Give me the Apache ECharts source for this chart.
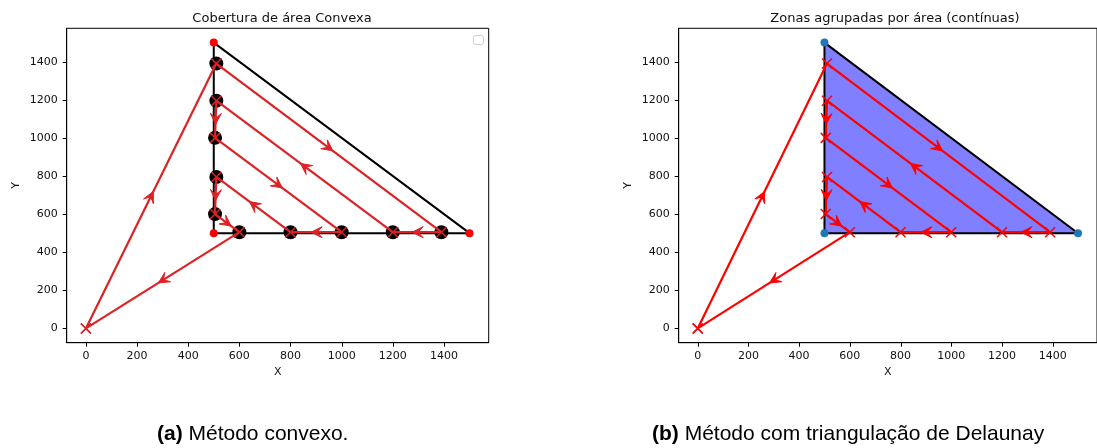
<!DOCTYPE html>
<html><head><meta charset="utf-8">
<script src="https://cdn.jsdelivr.net/npm/echarts@6/dist/echarts.min.js"></script>
<style>html,body{margin:0;padding:0;background:#fff}#c{width:1097px;height:448px}</style>
</head><body><div id="c"></div>
<script>
// ---- data ----
const pathX = [0, 510, 1390, 1200, 510, 505, 1000, 800, 510, 505, 600, 0];
const pathY = [0, 1390, 505, 505, 1195, 1000, 505, 505, 795, 600, 505, 0];
const triX = [500, 1500, 500];
const triY = [1500, 500, 500];
const tickValues = [0, 200, 400, 600, 800, 1000, 1200, 1400];
const titles = ['Cobertura de área Convexa', 'Zonas agrupadas por área (contínuas)'];
const captions = [['(a)', ' Método convexo.'], ['(b)', ' Método com triangulação de Delaunay']];

// ---- derived ----
const pts = pathX.map((x, i) => [x, pathY[i]]);
const segs = [];
for (let i = 0; i < pts.length - 1; i++) segs.push([pts[i][0], pts[i][1], pts[i + 1][0], pts[i + 1][1]]);
const visit = pts.slice(1, pts.length - 1);
const tri = triX.map((x, i) => [x, triY[i]]);
const hull = tri.concat([tri[0]]);
const AX_MIN = -75, AX_MAX = 1575;
const TICK_LEN = 4;

const FONT = 'DejaVu Sans';
const XMARK = 'path://M0,0L10,10M10,0L0,10';

function arrowSeries(idx, color) {
  return {
    type: 'custom', xAxisIndex: idx, yAxisIndex: idx, data: segs, z: 5,
    encode: {x: [0, 2], y: [1, 3]},
    renderItem: function (params, api) {
      const a = api.coord([api.value(0), api.value(1)]);
      const b = api.coord([api.value(2), api.value(3)]);
      const dx = b[0] - a[0], dy = b[1] - a[1];
      const L = Math.sqrt(dx * dx + dy * dy) || 1;
      const ux = dx / L, uy = dy / L, px = -uy, py = ux;
      const mx = (a[0] + b[0]) / 2, my = (a[1] + b[1]) / 2;
      const tx = mx + ux * 5, ty = my + uy * 5;
      const bx = tx - ux * 11, by = ty - uy * 11;
      const nx = tx - ux * 6, ny = ty - uy * 6;
      return {
        type: 'group', children: [
          {type: 'line', shape: {x1: a[0], y1: a[1], x2: b[0], y2: b[1]}, style: {stroke: color, lineWidth: 2.2}},
          {type: 'polygon', shape: {points: [[bx + px * 5.5, by + py * 5.5], [tx, ty], [bx - px * 5.5, by - py * 5.5], [nx, ny]]},
           style: {stroke: color, lineWidth: 1, fill: color, lineJoin: 'miter'}}
        ]
      };
    }
  };
}

function tickSeries(idx) {
  return {
    type: 'custom', xAxisIndex: idx, yAxisIndex: idx, z: 10, clip: false, silent: true,
    data: tickValues.map(v => [v, v]),
    encode: {x: 0, y: 1},
    renderItem: function (params, api) {
      const v = api.value(0);
      const px = api.coord([v, AX_MIN]);
      const py = api.coord([AX_MIN, v]);
      return {
        type: 'group', children: [
          {type: 'line', shape: {x1: Math.round(px[0]) + 0.5, y1: px[1], x2: Math.round(px[0]) + 0.5, y2: px[1] + TICK_LEN}, style: {stroke: '#000', lineWidth: 1}},
          {type: 'line', shape: {x1: py[0] - TICK_LEN, y1: Math.round(py[1]) + 0.5, x2: py[0], y2: Math.round(py[1]) + 0.5}, style: {stroke: '#000', lineWidth: 1}}
        ]
      };
    }
  };
}

function fmt(v) { return String(v); }

function xAxis(idx) {
  return {
    type: 'value', gridIndex: idx, min: AX_MIN, max: AX_MAX,
    name: 'X', nameLocation: 'middle', nameGap: 24,
    nameTextStyle: {fontFamily: FONT, fontSize: 11, color: '#111'},
    axisLine: {show: true, onZero: false, lineStyle: {color: '#000', width: 1}}, splitLine: {show: false},
    axisTick: {show: false},
    axisLabel: {fontFamily: FONT, fontSize: 11, color: '#111', margin: 8, customValues: tickValues, formatter: fmt}
  };
}
function yAxis(idx) {
  return {
    type: 'value', gridIndex: idx, min: AX_MIN, max: AX_MAX,
    name: 'Y', nameLocation: 'middle', nameGap: 45,
    nameTextStyle: {fontFamily: FONT, fontSize: 11, color: '#111'},
    axisLine: {show: true, onZero: false, lineStyle: {color: '#000', width: 1}}, splitLine: {show: false},
    axisTick: {show: false},
    axisLabel: {fontFamily: FONT, fontSize: 11, color: '#111', margin: 9, customValues: tickValues, formatter: fmt}
  };
}

const chart = echarts.init(document.getElementById('c'), null, {renderer: 'canvas'});
chart.setOption({
  animation: false,
  backgroundColor: '#fff',
  title: [
    {text: titles[0], left: 277, top: 7, textAlign: 'center', textStyle: {fontFamily: FONT, fontSize: 13, fontWeight: 'normal', color: '#111'}},
    {text: titles[1], left: 890, top: 7, textAlign: 'center', textStyle: {fontFamily: FONT, fontSize: 13, fontWeight: 'normal', color: '#111'}}
  ],
  grid: [
    {left: 66.7, top: 28.3, width: 422, height: 314.4, show: true, borderColor: '#000', borderWidth: 1, backgroundColor: 'transparent'},
    {left: 678.7, top: 28.3, width: 423, height: 314.4, show: true, borderColor: '#000', borderWidth: 1, backgroundColor: 'transparent'}
  ],
  xAxis: [xAxis(0), xAxis(1)],
  yAxis: [yAxis(0), yAxis(1)],
  graphic: [
    {type: 'rect', shape: {x: 473.5, y: 35.5, width: 10, height: 9, r: 2}, style: {fill: '#fff', stroke: '#ccc', lineWidth: 1}},
    {type: 'text', left: 157, top: 424, style: {
      text: '{b|' + captions[0][0] + '}{n|' + captions[0][1] + '}',
      rich: {b: {fontFamily: 'Liberation Sans', fontSize: 21, fontWeight: 'bold', fill: '#000'},
             n: {fontFamily: 'Liberation Sans', fontSize: 21, fill: '#000'}}}},
    {type: 'text', left: 652, top: 424, style: {
      text: '{b|' + captions[1][0] + '}{n|' + captions[1][1] + '}',
      rich: {b: {fontFamily: 'Liberation Sans', fontSize: 21, fontWeight: 'bold', fill: '#000'},
             n: {fontFamily: 'Liberation Sans', fontSize: 21, fill: '#000'}}}}
  ],
  series: [
    tickSeries(0),
    tickSeries(1),
    // ---- left ----
    {type: 'line', xAxisIndex: 0, yAxisIndex: 0, data: hull, symbol: 'none', z: 2,
     lineStyle: {color: '#000', width: 2}},
    {type: 'scatter', xAxisIndex: 0, yAxisIndex: 0, data: tri, symbol: 'circle', symbolSize: 8, z: 3,
     itemStyle: {color: '#ff0000', opacity: 1}},
    {type: 'scatter', xAxisIndex: 0, yAxisIndex: 0, data: visit, symbol: 'circle', symbolSize: 14, z: 4,
     itemStyle: {color: '#000', opacity: 1}},
    arrowSeries(0, '#dd2226'),
    {type: 'scatter', xAxisIndex: 0, yAxisIndex: 0, data: pts, symbol: XMARK, symbolSize: 10, z: 6,
     itemStyle: {color: 'none', borderColor: '#dd2226', borderWidth: 1.5, opacity: 1}},
    // ---- right ----
    {type: 'custom', xAxisIndex: 1, yAxisIndex: 1, data: tri, z: 1,
     renderItem: function (params, api) {
       if (params.dataIndex !== 0) return null;
       const p = tri.map(v => api.coord(v));
       return {type: 'polygon', shape: {points: p}, style: {fill: 'rgba(0,0,255,0.5)', stroke: '#000', lineWidth: 2}};
     }},
    {type: 'scatter', xAxisIndex: 1, yAxisIndex: 1, data: tri, symbol: 'circle', symbolSize: 8, z: 3,
     itemStyle: {color: '#1f77b4', opacity: 1}},
    arrowSeries(1, '#ff0000'),
    {type: 'scatter', xAxisIndex: 1, yAxisIndex: 1, data: pts, symbol: XMARK, symbolSize: 10, z: 6,
     itemStyle: {color: 'none', borderColor: '#ff0000', borderWidth: 1.5, opacity: 1}}
  ]
});
</script>
</body></html>
